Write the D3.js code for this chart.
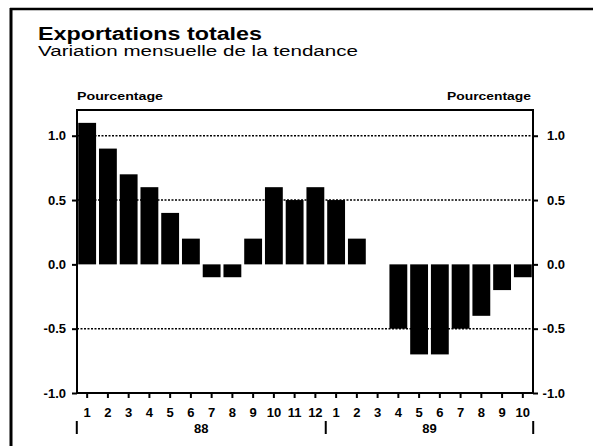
<!DOCTYPE html>
<html>
<head>
<meta charset="utf-8">
<script src="https://cdn.jsdelivr.net/npm/d3@7"></script>
<style>
  body { margin: 0; background: #fff; }
  text { font-family: "Liberation Sans", Arial, sans-serif; fill: #000; }
</style>
</head>
<body>
<div class="chart"></div>
<script>
// data
const months = ["1","2","3","4","5","6","7","8","9","10","11","12",
                "1","2","3","4","5","6","7","8","9","10"];
const values = [1.1, 0.9, 0.7, 0.6, 0.4, 0.2, -0.1, -0.1, 0.2, 0.6, 0.5, 0.6,
                0.5, 0.2, 0.0, -0.5, -0.7, -0.7, -0.5, -0.4, -0.2, -0.1];
const yearLabels = ["88", "89"];
const yearMonths = [12, 10];
const yTicks = [1, 0.5, 0, -0.5, -1];
const yTickLabels = ["1.0", "0.5", "0.0", "-0.5", "-1.0"];
const gridValues = [1, 0.5, -0.5];

const width = 593, height = 446;
const plot = { left: 77, right: 533, top: 110, bottom: 393 };

const svg = d3.select(".chart").append("svg")
  .attr("width", width)
  .attr("height", height);

// outer frame (top + left edge of the scanned box)
svg.append("line")
  .attr("x1", 10).attr("x2", 593).attr("y1", 9).attr("y2", 9)
  .attr("stroke", "#000").attr("stroke-width", 2.5);
svg.append("line")
  .attr("x1", 11).attr("x2", 11).attr("y1", 8).attr("y2", 446)
  .attr("stroke", "#000").attr("stroke-width", 3);

// titles
svg.append("text")
  .attr("x", 38).attr("y", 40)
  .attr("font-size", 18).attr("font-weight", "bold")
  .attr("textLength", 224).attr("lengthAdjust", "spacingAndGlyphs")
  .text("Exportations totales");
svg.append("text")
  .attr("x", 38).attr("y", 56)
  .attr("font-size", 14)
  .attr("textLength", 320).attr("lengthAdjust", "spacingAndGlyphs")
  .text("Variation mensuelle de la tendance");

svg.append("text")
  .attr("x", plot.left).attr("y", 100)
  .attr("font-size", 10).attr("font-weight", "bold")
  .attr("textLength", 86).attr("lengthAdjust", "spacingAndGlyphs")
  .text("Pourcentage");
svg.append("text")
  .attr("x", 447).attr("y", 100)
  .attr("font-size", 10).attr("font-weight", "bold")
  .attr("textLength", 84).attr("lengthAdjust", "spacingAndGlyphs")
  .text("Pourcentage");

// scales
const x = d3.scaleBand()
  .domain(d3.range(months.length))
  .range([plot.left, plot.right])
  .paddingInner(0.14)
  .paddingOuter(0.06);

const y = d3.scaleLinear()
  .domain([-1, 1.2])
  .range([plot.bottom, plot.top]);

// dotted grid
svg.append("g").selectAll("line")
  .data(gridValues)
  .join("line")
  .attr("x1", plot.left).attr("x2", plot.right)
  .attr("y1", d => y(d)).attr("y2", d => y(d))
  .attr("stroke", "#000")
  .attr("stroke-width", 1.5)
  .attr("stroke-dasharray", "2,1.5");

// bars
svg.append("g").selectAll("rect")
  .data(values)
  .join("rect")
  .attr("x", (d, i) => x(i))
  .attr("width", x.bandwidth())
  .attr("y", d => y(Math.max(0, d)))
  .attr("height", d => Math.abs(y(d) - y(0)))
  .attr("fill", "#000");

// plot frame
svg.append("rect")
  .attr("x", plot.left).attr("y", plot.top)
  .attr("width", plot.right - plot.left)
  .attr("height", plot.bottom - plot.top)
  .attr("fill", "none")
  .attr("stroke", "#000")
  .attr("stroke-width", 2);

// left / right axes
const leftAxis = d3.axisLeft(y)
  .tickValues(yTicks)
  .tickSize(5)
  .tickPadding(7)
  .tickFormat((d, i) => yTickLabels[i]);
const rightAxis = d3.axisRight(y)
  .tickValues(yTicks)
  .tickSize(5)
  .tickPadding(7)
  .tickFormat((d, i) => yTickLabels[i]);

const gl = svg.append("g")
  .attr("transform", `translate(${plot.left},0)`)
  .call(leftAxis);
const gr = svg.append("g")
  .attr("transform", `translate(${plot.right},0)`)
  .call(rightAxis);

[gl, gr].forEach(g => {
  g.select(".domain").remove();
  g.selectAll(".tick line").attr("stroke", "#000").attr("stroke-width", 2);
  g.selectAll(".tick text")
    .attr("font-size", 13)
    .attr("font-weight", "bold")
    .attr("font-family", "Liberation Sans, Arial, sans-serif");
});
gl.selectAll(".tick text").attr("x", -11);
// right labels are right-aligned like the scan
gr.selectAll(".tick text")
  .attr("text-anchor", "end")
  .attr("x", 565 - plot.right);

// bottom axis with month numbers
const bottomAxis = d3.axisBottom(x)
  .tickSize(5)
  .tickPadding(10)
  .tickFormat(i => months[i]);

const gb = svg.append("g")
  .attr("transform", `translate(0,${plot.bottom})`)
  .call(bottomAxis);
gb.select(".domain").remove();
gb.selectAll(".tick line").attr("stroke", "#000").attr("stroke-width", 2);
gb.selectAll(".tick text")
  .attr("font-size", 13)
  .attr("font-weight", "bold")
  .attr("font-family", "Liberation Sans, Arial, sans-serif");

// year separators and year labels
const step = x.step();
const start = x(0) - step * x.paddingInner() / 2;
let idx = 0;
const bounds = [start];
yearMonths.forEach(n => { idx += n; bounds.push(start + idx * step); });

svg.append("g").selectAll("line")
  .data(bounds)
  .join("line")
  .attr("x1", d => d).attr("x2", d => d)
  .attr("y1", 421).attr("y2", 434)
  .attr("stroke", "#000")
  .attr("stroke-width", 2);

svg.append("g").selectAll("text")
  .data(yearLabels)
  .join("text")
  .attr("x", (d, i) => (bounds[i] + bounds[i + 1]) / 2)
  .attr("y", 433)
  .attr("text-anchor", "middle")
  .attr("font-size", 13)
  .attr("font-weight", "bold")
  .text(d => d);
</script>
</body>
</html>
